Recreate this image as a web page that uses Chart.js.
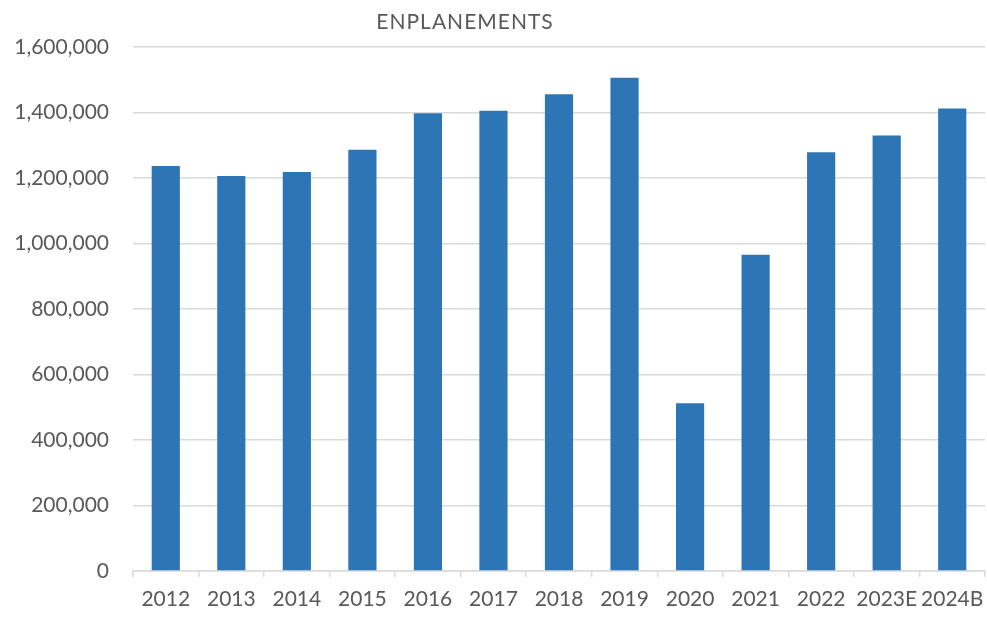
<!DOCTYPE html>
<html>
<head>
<meta charset="utf-8">
<script src="https://cdn.jsdelivr.net/npm/chart.js@4/dist/chart.umd.min.js"></script>
<style>
  html, body { margin: 0; padding: 0; background: #fff; }
  #wrap { position: relative; width: 987px; height: 618px; }
  #title {
    position: absolute; left: 0; top: 8px; width: 930px;
    text-align: center; font-family: Lato, sans-serif; font-size: 21px;
    color: #595959; letter-spacing: 1px;
  }
</style>
</head>
<body>
<div id="wrap">
  <div id="title">ENPLANEMENTS</div>
  <canvas id="chart" width="987" height="618"></canvas>
</div>
<script>
// Enplanements by year
const years = ["2012", "2013", "2014", "2015", "2016", "2017", "2018",
  "2019", "2020", "2021", "2022", "2023E", "2024B"];
const enplanements = [1237000, 1206000, 1218000, 1286000, 1398000, 1405000,
  1456000, 1506000, 512000, 966000, 1279000, 1330000, 1412000];
const yTicks = [0, 200000, 400000, 600000, 800000, 1000000, 1200000, 1400000, 1600000];

const ctx = document.getElementById("chart").getContext("2d");
new Chart(ctx, {
  type: "bar",
  data: {
    labels: years,
    datasets: [{
      label: "Enplanements",
      data: enplanements,
      backgroundColor: "#2e75b6",
      barPercentage: 0.43,
      categoryPercentage: 1.0,
    }],
  },
  options: {
    responsive: false,
    animation: false,
    layout: { padding: { top: 47, left: 12, right: 2, bottom: 0 } },
    plugins: {
      legend: { display: false },
      tooltip: { enabled: false },
    },
    scales: {
      x: {
        afterFit: (axis) => {
          axis.height = 47;
          // don't let the wide last label push the plot in
          axis.paddingLeft = 0;
          axis.paddingRight = 0;
        },
        border: { color: "#d9d9d9", width: 1.5 },
        grid: {
          drawOnChartArea: false,
          drawTicks: true,
          tickLength: 6,
          color: "#d9d9d9",
          lineWidth: 1.5,
        },
        ticks: {
          color: "#595959",
          font: { family: "Lato", size: 21 },
          padding: 10,
          maxRotation: 0,
          autoSkip: false,
        },
      },
      y: {
        min: 0,
        max: 1600000,
        afterBuildTicks: (axis) => {
          axis.ticks = yTicks.map((v) => ({ value: v }));
        },
        afterFit: (axis) => {
          axis.width = 121;
          axis.paddingTop = 0;
          axis.paddingBottom = 0;
        },
        border: { display: false },
        grid: { color: "#d9d9d9", lineWidth: 1.5, drawTicks: false },
        ticks: {
          color: "#595959",
          font: { family: "Lato", size: 21 },
          padding: 24,
          callback: (v) => v.toLocaleString("en-US"),
        },
      },
    },
  },
});
</script>
</body>
</html>
